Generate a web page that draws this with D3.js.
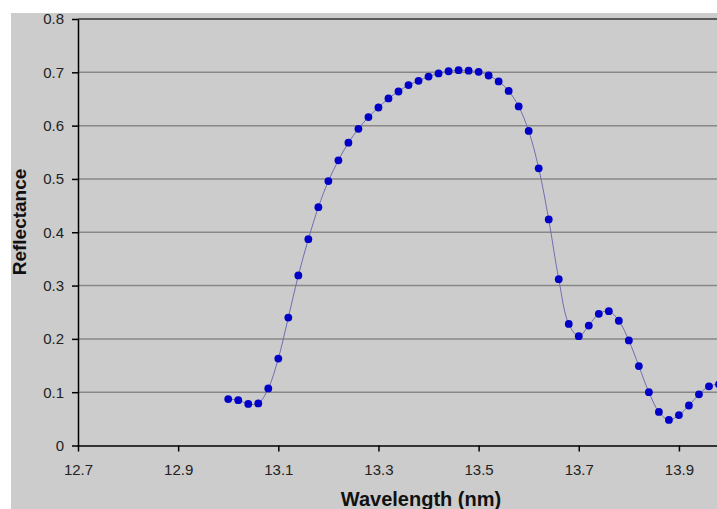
<!DOCTYPE html>
<html>
<head>
<meta charset="utf-8">
<script src="https://cdn.jsdelivr.net/npm/d3@7/dist/d3.min.js"></script>
<style>
    body { margin: 0; background: #fff; }
    .axis text { font-family: "Liberation Sans", Arial, sans-serif; font-size: 15px; fill: #222; }
    .axis path, .axis line { stroke: #000; stroke-width: 1.5; }
    .title { font-family: "Liberation Sans", Arial, sans-serif; font-weight: bold; fill: #111; }
</style>
</head>
<body>
<svg class="chart"></svg>
<script>
// wavelength start and step of the measurement points
var startWl = 13.0;
var stepWl = 0.02;

// reflectance readings, one every 0.02 nm from 13.00 nm
var reflectance = [
    0.087, 0.085, 0.078, 0.079, 0.107, 0.163, 0.240, 0.319, 0.387, 0.447,
    0.496, 0.535, 0.568, 0.594, 0.616, 0.634, 0.651, 0.664, 0.676, 0.684,
    0.692, 0.698, 0.702, 0.704, 0.703, 0.701, 0.694, 0.683, 0.665, 0.636,
    0.590, 0.520, 0.424, 0.312, 0.228, 0.205, 0.225, 0.247, 0.252, 0.234,
    0.197, 0.149, 0.100, 0.063, 0.048, 0.057, 0.075, 0.096, 0.111, 0.115
];

var xTicks = [12.7, 12.9, 13.1, 13.3, 13.5, 13.7, 13.9];
var yTicks = [0, 0.1, 0.2, 0.3, 0.4, 0.5, 0.6, 0.7, 0.8];
var yLabels = ["0", "0.1", "0.2", "0.3", "0.4", "0.5", "0.6", "0.7", "0.8"];

var width = 717, height = 509;
var plot = { left: 78, top: 19, right: 729, bottom: 445.5 };

var svg = d3.select(".chart")
    .attr("width", width)
    .attr("height", height);

// grey paper, white strip at top and left
svg.append("rect")
    .attr("x", 11).attr("y", 13)
    .attr("width", width - 11).attr("height", height - 13)
    .attr("fill", "#cccccc");

var x = d3.scaleLinear().domain([12.7, 14.0]).range([plot.left, plot.right]);
var y = d3.scaleLinear().domain([0, 0.8]).range([plot.bottom, plot.top]);

var data = reflectance.map(function (v, i) {
    return { wl: startWl + stepWl * i, r: v };
});

// horizontal gridlines
svg.append("g")
    .selectAll("line")
    .data(yTicks.slice(1, -1))
    .enter().append("line")
    .attr("x1", plot.left).attr("x2", plot.right)
    .attr("y1", function (d) { return y(d); })
    .attr("y2", function (d) { return y(d); })
    .attr("stroke", "#888")
    .attr("stroke-width", 1.5);

// top border of plot area
svg.append("line")
    .attr("x1", plot.left).attr("x2", plot.right)
    .attr("y1", y(0.8)).attr("y2", y(0.8))
    .attr("stroke", "#333")
    .attr("stroke-width", 1.5);

// axes
svg.append("g")
    .attr("class", "axis")
    .attr("transform", "translate(0," + plot.bottom + ")")
    .call(d3.axisBottom(x).tickValues(xTicks).tickSize(6).tickSizeOuter(0)
        .tickPadding(13).tickFormat(d3.format(".1f")));

svg.append("g")
    .attr("class", "axis")
    .attr("transform", "translate(" + plot.left + ",0)")
    .call(d3.axisLeft(y).tickValues(yTicks).tickSize(6).tickSizeOuter(0)
        .tickPadding(8).tickFormat(function (d, i) { return yLabels[i]; }));

// smoothed line through the points
var line = d3.line()
    .x(function (d) { return x(d.wl); })
    .y(function (d) { return y(d.r); })
    .curve(d3.curveCatmullRom.alpha(0.5));

svg.append("path")
    .datum(data)
    .attr("d", line)
    .attr("fill", "none")
    .attr("stroke", "#6f6fb0")
    .attr("stroke-width", 1);

svg.append("g")
    .selectAll("circle")
    .data(data)
    .enter().append("circle")
    .attr("cx", function (d) { return x(d.wl); })
    .attr("cy", function (d) { return y(d.r); })
    .attr("r", 3.9)
    .attr("fill", "#0000c8");

// axis titles
svg.append("text")
    .attr("class", "title")
    .attr("x", 421).attr("y", 506)
    .attr("text-anchor", "middle")
    .style("font-size", "20px")
    .text("Wavelength (nm)");

svg.append("text")
    .attr("class", "title")
    .attr("transform", "translate(26,222) rotate(-90)")
    .attr("text-anchor", "middle")
    .style("font-size", "19px")
    .text("Reflectance");
</script>
</body>
</html>
